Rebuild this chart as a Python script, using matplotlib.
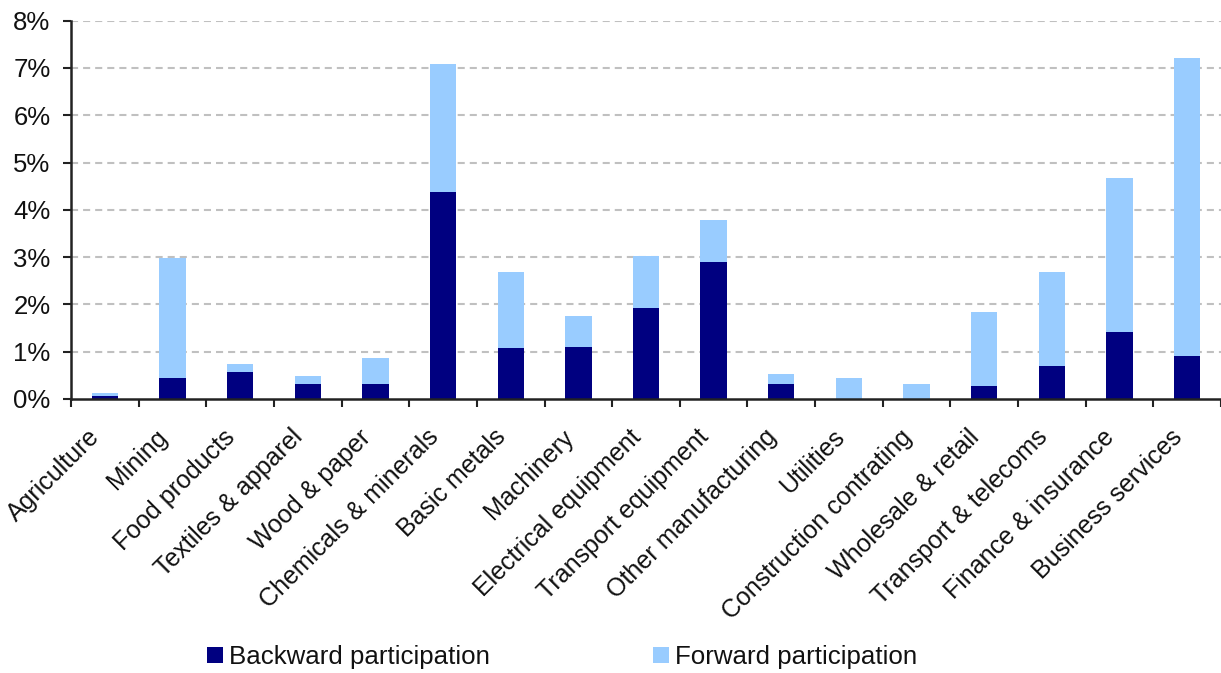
import matplotlib
matplotlib.use("Agg")
import matplotlib.pyplot as plt
from matplotlib.transforms import ScaledTranslation
from matplotlib.patches import Patch
from matplotlib.ticker import FixedLocator, PercentFormatter

plt.rcParams['font.family'] = ['Liberation Sans', 'DejaVu Sans']

sectors = [
    "Agriculture", "Mining", "Food products", "Textiles & apparel", "Wood & paper",
    "Chemicals & minerals", "Basic metals", "Machinery", "Electrical equipment",
    "Transport equipment", "Other manufacturing", "Utilities", "Construction contrating",
    "Wholesale & retail", "Transport & telecoms", "Finance & insurance", "Business services",
]
# Participation shares, in percent
backward = [0.06, 0.44, 0.57, 0.32, 0.32, 4.38, 1.07, 1.11, 1.92, 2.89, 0.31,
            0.00, 0.00, 0.27, 0.69, 1.41, 0.90]
forward = [0.07, 2.55, 0.16, 0.16, 0.54, 2.70, 1.61, 0.64, 1.10, 0.89, 0.21,
           0.44, 0.31, 1.56, 1.99, 3.26, 6.31]
y_ticks = [0, 1, 2, 3, 4, 5, 6, 7, 8]

navy = "#000080"
sky = "#99CCFF"

fig = plt.figure(figsize=(12.21, 6.73), dpi=100)
ax = fig.add_axes([71 / 1221, 1 - 399 / 673, 1 - 71 / 1221, (399 - 20.7) / 673])

x = list(range(len(sectors)))
ax.bar(x, backward, width=0.39, color=navy, zorder=3)
ax.bar(x, forward, width=0.39, bottom=backward, color=sky, zorder=3)

ax.set_xlim(-0.5, len(sectors) - 0.5)
ax.set_ylim(0, 8)

# y axis
ax.yaxis.set_major_locator(FixedLocator(y_ticks))
ax.yaxis.set_major_formatter(PercentFormatter(decimals=0))
ax.tick_params(axis='y', direction='out', length=5.8, width=1.5, colors='#222222',
               labelsize=18.5, pad=9, labelcolor='#111111')
for yv in y_ticks[1:]:
    ax.axhline(yv, color='#C0C0C0', lw=1.5, linestyle=(0, (3.4, 2.4)), zorder=1)

# x axis: ticks at category boundaries, labels drawn as rotated text
ax.set_xticks([i - 0.5 for i in range(len(sectors) + 1)])
ax.set_xticklabels([])
ax.tick_params(axis='x', direction='out', length=5.8, width=1.5, colors='#222222')

for s in ['top', 'right']:
    ax.spines[s].set_visible(False)
for s in ['left', 'bottom']:
    ax.spines[s].set_linewidth(1.8)
    ax.spines[s].set_color('#222222')
    ax.spines[s].set_zorder(4)

base = ax.get_xaxis_transform()
off = ScaledTranslation(-0.17, -0.26, fig.dpi_scale_trans)
for i, name in enumerate(sectors):
    ax.text(i, 0, name, transform=base + off, rotation=45, rotation_mode='anchor',
            ha='right', va='top', fontsize=18, color='#111111')

handles = [Patch(facecolor=navy, edgecolor='none', label='Backward participation'),
           Patch(facecolor=sky, edgecolor='none', label='Forward participation')]
fig.legend(handles=handles, loc='center', bbox_to_anchor=(0.4605, 1 - 657 / 673),
           ncol=2, frameon=False, fontsize=18.6, handlelength=0.62, handleheight=0.62,
           handletextpad=0.25, columnspacing=6.3, borderpad=0, labelcolor='#111111')

fig.savefig("out.png", dpi=100)
